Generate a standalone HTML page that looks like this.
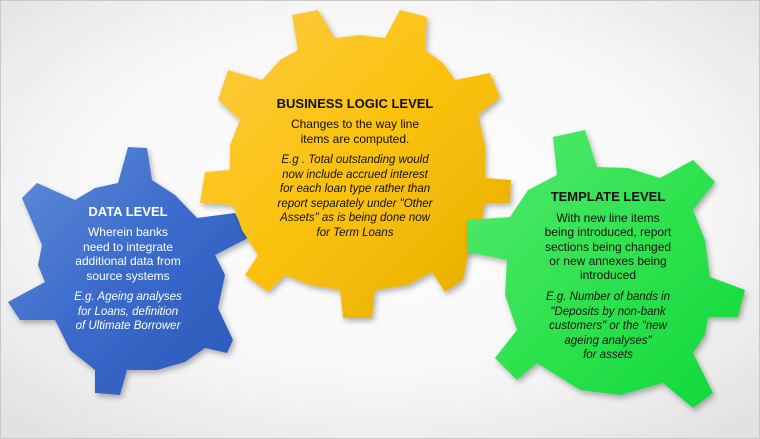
<!DOCTYPE html>
<html><head><meta charset="utf-8"><style>
html,body{margin:0;padding:0;}
body{width:760px;height:439px;overflow:hidden;}
svg{display:block;}
text{font-family:"Liberation Sans",sans-serif;}
</style></head><body>
<svg width="760" height="439" viewBox="0 0 760 439" xmlns="http://www.w3.org/2000/svg">
<defs>
<radialGradient id="bg" cx="50%" cy="45%" r="70%">
<stop offset="0" stop-color="#ffffff"/><stop offset="0.6" stop-color="#f7f7f7"/><stop offset="1" stop-color="#e2e2e2"/>
</radialGradient>
<linearGradient id="gy" x1="0" y1="0" x2="1" y2="1"><stop offset="0" stop-color="#fdcb45"/><stop offset="0.5" stop-color="#fbc20c"/><stop offset="1" stop-color="#e4ad00"/></linearGradient>
<linearGradient id="gb" x1="0" y1="0" x2="1" y2="1"><stop offset="0" stop-color="#628dd8"/><stop offset="0.5" stop-color="#3a6acb"/><stop offset="1" stop-color="#2a58b8"/></linearGradient>
<linearGradient id="gg" x1="0" y1="0" x2="1" y2="1"><stop offset="0" stop-color="#55ea70"/><stop offset="0.5" stop-color="#2fe24f"/><stop offset="1" stop-color="#0fd83a"/></linearGradient>
<filter id="sh" x="-20%" y="-20%" width="140%" height="140%"><feDropShadow dx="2" dy="3" stdDeviation="3" flood-color="#000" flood-opacity="0.3"/></filter>
</defs>
<rect x="0" y="0" width="760" height="439" fill="url(#bg)"/>
<rect x="0.5" y="0.5" width="759" height="438" fill="none" stroke="#c8c8c8"/>

<!-- blue -->
<polygon filter="url(#sh)" fill="url(#gb)" points="118,183 128,147 147,148 152,180 175,195 197,218 235,213 248,238 215,255 225,275 218,308 233,340 227,353 205,348 185,362 157,370 127,370 120,395 95,393 95,370 70,350 55,320 20,320 8,302 45,282 38,265 42,245 22,198 37,183 75,200 95,188"/>

<!-- yellow -->
<polygon filter="url(#sh)" fill="url(#gy)" points="262,80 280,60 298,50 292,15 318,10 335,38 360,35 385,38 400,10 427,17 425,50 443,63 455,80 490,73 500,97 478,115 485,145 485,178 511,180 510,203 485,203 480,232 468,255 463,280 445,292 432,272 408,285 375,290 372,318 343,318 340,290 310,285 285,275 268,292 245,275 258,255 242,230 233,205 200,203 205,172 230,170 230,145 240,120 218,100 228,70"/>

<!-- green -->
<polygon filter="url(#sh)" fill="url(#gg)" points="557,175 553,137 585,130 597,167 628,168 660,178 693,160 715,182 693,210 705,240 710,277 745,290 738,317 708,317 705,335 693,353 713,393 693,408 663,383 620,395 580,390 537,363 517,380 495,358 517,330 505,295 507,260 467,252 467,220 510,217 528,190"/>

<g text-anchor="middle" fill="#111">
<text x="355" y="108" font-size="13" font-weight="bold">BUSINESS LOGIC LEVEL</text>
<text x="355" y="128" font-size="12">Changes to the way  line</text>
<text x="355" y="143" font-size="12">items are computed.</text>
<g font-style="italic" font-size="11.5">
<text x="355" y="163">E.g . Total outstanding would</text>
<text x="355" y="178">now include accrued interest</text>
<text x="355" y="192">for each loan type rather than</text>
<text x="355" y="207">report  separately under "Other</text>
<text x="355" y="221">Assets"  as is being done now</text>
<text x="355" y="236">for Term Loans</text>
</g>
</g>

<g text-anchor="middle" fill="#fff">
<text x="128" y="216" font-size="13" font-weight="bold">DATA LEVEL</text>
<text x="128" y="236" font-size="12">Wherein banks</text>
<text x="128" y="251" font-size="12">need to integrate</text>
<text x="128" y="265" font-size="12">additional data from</text>
<text x="128" y="280" font-size="12">source systems</text>
<g font-style="italic" font-size="11.5">
<text x="128" y="300">E.g. Ageing analyses</text>
<text x="128" y="315">for Loans, definition</text>
<text x="128" y="329">of Ultimate Borrower</text>
</g>
</g>

<g text-anchor="middle" fill="#111">
<text x="608" y="201" font-size="13" font-weight="bold">TEMPLATE LEVEL</text>
<text x="608" y="222" font-size="12">With new line items</text>
<text x="608" y="236" font-size="12">being introduced, report</text>
<text x="608" y="251" font-size="12">sections being changed</text>
<text x="608" y="265" font-size="12">or new annexes being</text>
<text x="608" y="279" font-size="12">introduced</text>
<g font-style="italic" font-size="11.5">
<text x="608" y="300">E.g. Number of bands in</text>
<text x="608" y="315">"Deposits by non-bank</text>
<text x="608" y="329">customers" or the “new</text>
<text x="608" y="344">ageing analyses"</text>
<text x="608" y="358">for assets</text>
</g>
</g>
</svg>
</body></html>
